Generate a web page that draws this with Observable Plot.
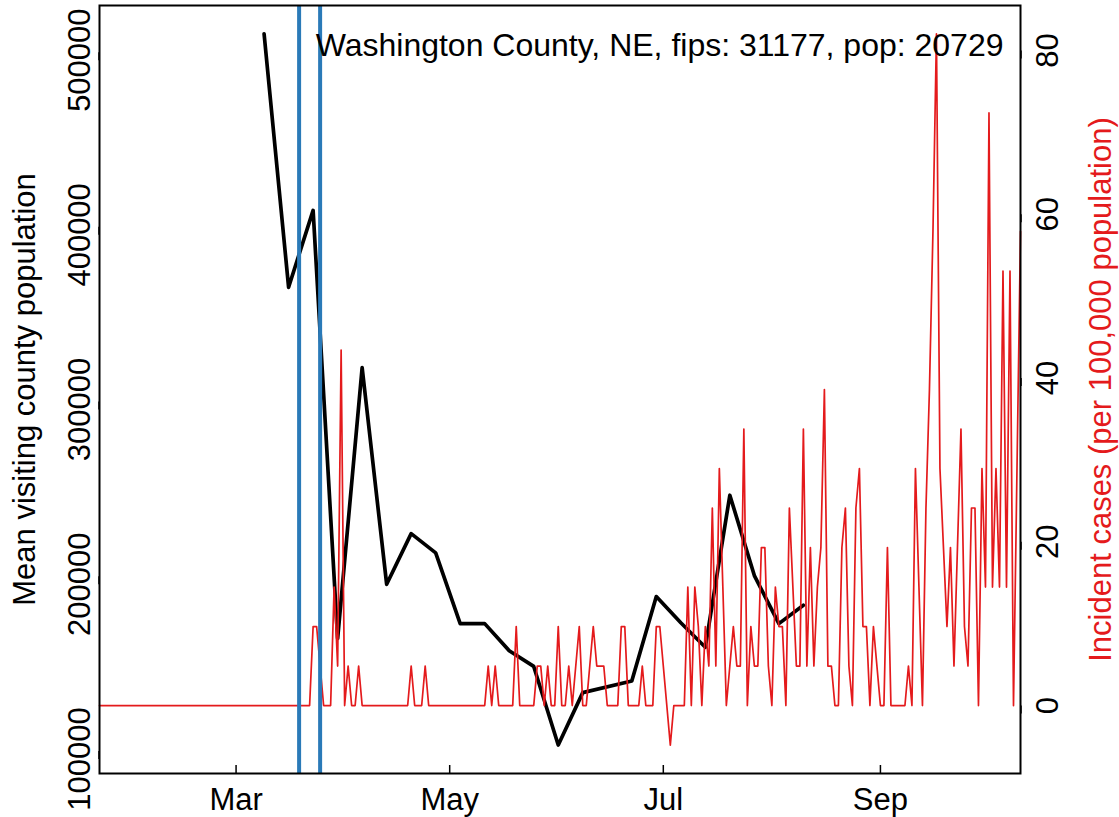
<!DOCTYPE html>
<html>
<head>
<meta charset="utf-8">
<script src="https://cdn.jsdelivr.net/npm/d3@7"></script>
<script src="https://cdn.jsdelivr.net/npm/@observablehq/plot@0.6"></script>
<style>
  body { margin: 0; background: #ffffff; }
  #chart { position: relative; width: 1119px; height: 817px; }
  #chart svg { position: absolute; left: 0; top: 0; overflow: visible; }
</style>
</head>
<body>
<div id="chart"></div>
<script>
// ---------------- data ----------------
const countyTitle = "Washington County, NE, fips: 31177, pop: 20729";
const population = 20729;
const leftTitle = "Mean visiting county population";
const rightTitle = "Incident cases (per 100,000 population)";

// weekly mean visiting county population (black line)
const visitDates = ["2020-03-09","2020-03-16","2020-03-23","2020-03-30","2020-04-06","2020-04-13",
  "2020-04-20","2020-04-27","2020-05-04","2020-05-11","2020-05-18","2020-05-25","2020-06-01",
  "2020-06-08","2020-06-22","2020-06-29","2020-07-06","2020-07-13","2020-07-20","2020-07-27",
  "2020-08-03","2020-08-10"];
const visitValues = [515000,370000,414000,169000,324000,200000,229000,218000,177500,177500,
  162000,153000,108000,138000,144700,193000,178000,164000,251000,205000,177500,188000];

// daily incident cases, starting 2020-01-22 (red line)
const caseStart = "2020-01-22";
const casesJanFeb = [0,0,0,0,0,0,0,0,0,0, 0,0,0,0,0,0,0,0,0,0,0,0,0,0,0,0,0,0,0,0,0,0,0,0,0,0,0,0,0];
const casesMar = [0,0,0,0,0,0,0,0,0,0,0,0,0,0,0,0,0,0,0,0,0,0,2,2,1,0,0,0,3,1,9];
const casesApr = [0,1,0,0,1,0,0,0,0,0,0,0,0,0,0,0,0,0,0,1,0,0,0,1,0,0,0,0,0,0];
const casesMay = [0,0,0,0,0,0,0,0,0,0,0,1,0,1,0,0,0,0,0,2,0,0,0,0,0,1,1,0,1,0,0];
const casesJun = [2,0,0,1,0,1,2,0,0,1,2,1,1,1,0,0,0,0,2,2,0,0,0,0,1,0,0,0,2,2];
const casesJul = [1,0,-1,0,0,0,0,3,0,3,2,0,2,1,5,1,6,3,0,1,2,1,1,7,0,2,1,1,4,4,1];
const casesAug = [0,3,2,2,0,5,3,1,1,7,1,4,1,3,4,8,1,1,0,0,4,5,1,0,5,6,2,2,0,2,1];
const casesSep = [0,0,4,0,0,0,0,0,1,0,6,3,0,5,8,12,17,6,4,2,4,1,4,7,2,1,5,5,0,6];
const casesOct = [3,15,3,6,3,11,3,11,0,6,12];

// blue vertical lines
const policyDates = ["2020-03-19","2020-03-25"];

// tick values
const leftTicks = [100000,200000,300000,400000,500000];
const rightTicks = [0,20,40,60,80];
const monthTicks = ["2020-03-01","2020-05-01","2020-07-01","2020-09-01"];

// ---------------- build tables ----------------
const parse = d3.utcParse("%Y-%m-%d");
const visits = visitDates.map((d, i) => ({date: parse(d), value: visitValues[i]}));
const dailyCases = [].concat(casesJanFeb, casesMar, casesApr, casesMay, casesJun, casesJul, casesAug, casesSep, casesOct);
const start = parse(caseStart);
const incidence = dailyCases.map((c, i) => ({date: d3.utcDay.offset(start, i), value: c * 100000 / population}));

const pad = ([lo, hi]) => [lo - 0.04 * (hi - lo), hi + 0.04 * (hi - lo)];
const xDomain = d3.extent(incidence, d => d.date);
const yLeftDomain = pad(d3.extent(visits, d => d.value));
const yRightDomain = pad(d3.extent(incidence, d => d.value));

const RED = "#e41a1c";
const BLUE = "#2a7ab8";
const FONT = "'Liberation Sans', Arial, Helvetica, sans-serif";

const common = {
  width: 1119, height: 817,
  marginTop: 5, marginRight: 99, marginBottom: 44, marginLeft: 99,
  style: {fontFamily: FONT, fontSize: "31px", background: "transparent", color: "black", overflow: "visible"}
};

const plotLeft = Plot.plot({
  ...common,
  x: {type: "utc", domain: xDomain, axis: null},
  y: {domain: yLeftDomain},
  marks: [
    Plot.line(visits, {x: "date", y: "value", stroke: "black", strokeWidth: 3.7}),
    Plot.axisY({anchor: "left", ticks: leftTicks, tickFormat: d3.format("d"), tickSize: -8, tickPadding: 18,
      rotate: -90, textAnchor: "middle", lineAnchor: "bottom", strokeWidth: 1.5, label: null}),
    Plot.text([leftTitle], {frameAnchor: "left", rotate: -90, textAnchor: "middle", lineAnchor: "top", dx: -87, fill: "black"})
  ]
});

const plotRight = Plot.plot({
  ...common,
  x: {type: "utc", domain: xDomain},
  y: {domain: yRightDomain},
  marks: [
    Plot.line(incidence, {x: "date", y: "value", stroke: RED, strokeWidth: 1.7}),
    Plot.ruleX(policyDates.map(parse), {stroke: BLUE, strokeWidth: 4}),
    Plot.frame({stroke: "black", strokeWidth: 2}),
    Plot.axisX({ticks: monthTicks.map(parse), tickFormat: d3.utcFormat("%b"), tickSize: -8, tickPadding: 22,
      lineAnchor: "top", strokeWidth: 1.5, label: null}),
    Plot.axisY({anchor: "right", ticks: rightTicks, tickFormat: d3.format("d"), tickSize: -8, tickPadding: 23,
      rotate: -90, textAnchor: "middle", lineAnchor: "top", strokeWidth: 1.5, label: null}),
    Plot.text([rightTitle], {frameAnchor: "right", rotate: -90, textAnchor: "middle", lineAnchor: "top", dx: 68, fill: RED}),
    Plot.text([countyTitle], {frameAnchor: "top-right", textAnchor: "end", lineAnchor: "top", dx: -17, dy: 28,
      fill: "black", fontSize: 32})
  ]
});

const chart = document.getElementById("chart");
chart.appendChild(plotLeft);
chart.appendChild(plotRight);
</script>
</body>
</html>
